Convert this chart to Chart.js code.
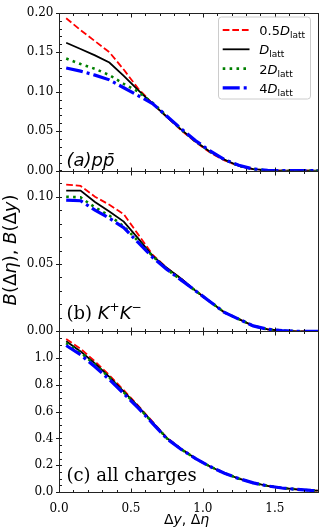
<!DOCTYPE html>
<html>
<head>
<meta charset="utf-8">
<script src="https://cdn.jsdelivr.net/npm/chart.js@4.4.1/dist/chart.umd.min.js"></script>
<style>
  body { margin: 0; background: #fff; }
  #wrap { position: relative; width: 332px; height: 532px; }
  canvas { position: absolute; left: 0; top: 0; }
</style>
</head>
<body>
<div id="wrap">
  <canvas id="panelA" width="332" height="532"></canvas>
  <canvas id="panelB" width="332" height="532"></canvas>
  <canvas id="panelC" width="332" height="532"></canvas>
</div>
<script>
// bin centres in Δy / Δη (last one runs past the axis end)
const dy = [0.05, 0.15, 0.25, 0.35, 0.45, 0.55, 0.65, 0.75, 0.85, 0.95, 1.05, 1.15, 1.25, 1.35, 1.45, 1.55, 1.65, 1.75, 1.85];

// (a) p pbar
const ppHalf = [0.193, 0.178, 0.164, 0.150, 0.128, 0.104, 0.085, 0.068, 0.051, 0.036, 0.023, 0.013, 0.006, 0.002, 0.0005, 0, 0, 0, 0];
const ppOne  = [0.162, 0.154, 0.146, 0.137, 0.120, 0.102, 0.085, 0.068, 0.052, 0.037, 0.024, 0.014, 0.006, 0.002, 0.0005, 0, 0, 0, 0];
const ppTwo  = [0.142, 0.135, 0.129, 0.121, 0.110, 0.100, 0.086, 0.069, 0.052, 0.037, 0.024, 0.014, 0.006, 0.002, 0.0005, 0, 0, 0, 0];
const ppFour = [0.130, 0.126, 0.121, 0.115, 0.105, 0.095, 0.085, 0.069, 0.053, 0.038, 0.025, 0.014, 0.007, 0.002, 0.0005, 0, 0, 0, 0];

// (b) K+ K-
const kkHalf = [0.109, 0.108, 0.100, 0.094, 0.087, 0.072, 0.057, 0.047, 0.039, 0.030, 0.022, 0.014, 0.009, 0.004, 0.0015, 0.0005, 0, 0, 0];
const kkOne  = [0.1045, 0.1045, 0.096, 0.089, 0.0815, 0.069, 0.056, 0.047, 0.039, 0.030, 0.022, 0.014, 0.009, 0.004, 0.0015, 0.0005, 0, 0, 0];
const kkTwo  = [0.100, 0.0995, 0.092, 0.086, 0.078, 0.067, 0.056, 0.046, 0.038, 0.030, 0.022, 0.014, 0.009, 0.004, 0.0015, 0.0005, 0, 0, 0];
const kkFour = [0.0975, 0.097, 0.090, 0.084, 0.077, 0.066, 0.055, 0.046, 0.038, 0.030, 0.022, 0.014, 0.009, 0.004, 0.0015, 0.0005, 0, 0, 0];

// (c) all charges
const allHalf = [1.142, 1.07, 0.975, 0.872, 0.76, 0.645, 0.525, 0.405, 0.322, 0.25, 0.19, 0.14, 0.10, 0.068, 0.045, 0.03, 0.02, 0.012, 0.008];
const allOne  = [1.125, 1.05, 0.96, 0.86, 0.75, 0.64, 0.52, 0.402, 0.32, 0.25, 0.19, 0.14, 0.10, 0.068, 0.045, 0.03, 0.02, 0.012, 0.008];
const allTwo  = [1.112, 1.04, 0.952, 0.855, 0.745, 0.635, 0.518, 0.40, 0.319, 0.249, 0.19, 0.14, 0.10, 0.068, 0.045, 0.03, 0.02, 0.012, 0.008];
const allFour = [1.094, 1.025, 0.935, 0.84, 0.735, 0.628, 0.513, 0.398, 0.318, 0.249, 0.19, 0.14, 0.10, 0.068, 0.045, 0.03, 0.02, 0.012, 0.008];

// legend: prefix + D_latt
const legendPrefix = ['0.5', '', '2', '4'];

const xTicks = [0, 0.5, 1.0, 1.5];
const yTicksA = [0, 0.05, 0.10, 0.15, 0.20];
const yTicksB = [0, 0.05, 0.10];
const yTicksC = [0, 0.2, 0.4, 0.6, 0.8, 1.0];

const styles = [
  { color: '#ff0000', width: 1.8, dash: [6.7, 2.9] },
  { color: '#000000', width: 1.8, dash: [] },
  { color: '#008000', width: 2.6, dash: [2.6, 4.3] },
  { color: '#0000ff', width: 3.2, dash: [17, 4, 3, 4] }
];

const SERIF = '"DejaVu Serif"';
const SANS = '"DejaVu Sans"';

function rich(ctx, parts, x, y) {
  for (const [t, font, dyy] of parts) {
    ctx.font = font;
    ctx.fillText(t, x, y + (dyy || 0));
    x += ctx.measureText(t).width;
  }
  return x;
}
function richWidth(ctx, parts) {
  let w = 0;
  for (const [t, font] of parts) { ctx.font = font; w += ctx.measureText(t).width; }
  return w;
}

// frame, inward ticks, panel label, legend, axis titles
const decor = {
  id: 'decor',
  afterDraw(chart, args, o) {
    const { ctx, chartArea: a, scales: { x, y } } = chart;
    const L = Math.round(a.left) + 0.5, R = Math.round(a.right) + 0.5;
    const T = Math.round(a.top) + 0.5, B = Math.round(a.bottom) + 0.5;
    ctx.save();
    ctx.strokeStyle = '#000';
    ctx.lineWidth = 0.9;
    ctx.beginPath();
    // y minor ticks (inside)
    const nMinor = Math.round(y.max / o.yMinor);
    for (let k = 0; k <= nMinor; k++) {
      const py = Math.round(y.getPixelForValue(k * o.yMinor)) + 0.5;
      ctx.moveTo(L, py); ctx.lineTo(L + 2.5, py);
    }
    // y major ticks (outside)
    for (const v of o.yMajor) {
      const py = Math.round(y.getPixelForValue(v)) + 0.5;
      ctx.moveTo(L - 3.5, py); ctx.lineTo(L, py);
    }
    // x ticks, inward on bottom and top
    for (let k = 0; k <= 18; k++) {
      const px = Math.round(x.getPixelForValue(k * 0.1)) + 0.5;
      const len = k % 5 === 0 ? 4 : 2.5;
      ctx.moveTo(px, B); ctx.lineTo(px, B - len);
      ctx.moveTo(px, T); ctx.lineTo(px, T + len);
    }
    ctx.stroke();
    ctx.strokeStyle = '#222';
    ctx.lineWidth = 1;
    ctx.strokeRect(L, T, R - L, B - T);

    ctx.fillStyle = '#000';
    ctx.textBaseline = 'alphabetic';
    ctx.textAlign = 'left';
    rich(ctx, o.label, a.left + 7.5, o.labelY);

    if (o.legend) {
      const bx = 218, by = 16.5, bw = 92, bh = 82;
      ctx.beginPath();
      ctx.roundRect(bx + 0.5, by + 0.5, bw, bh, 3);
      ctx.fillStyle = 'rgba(255,255,255,0.8)';
      ctx.fill();
      ctx.strokeStyle = '#cccccc';
      ctx.lineWidth = 1;
      ctx.stroke();
      chart.data.datasets.forEach((ds, i) => {
        const ry = 30 + i * 19.3;
        ctx.save();
        ctx.strokeStyle = ds.borderColor;
        ctx.lineWidth = ds.borderWidth;
        ctx.setLineDash(ds.borderDash);
        ctx.beginPath();
        ctx.moveTo(222.7, ry); ctx.lineTo(249.5, ry);
        ctx.stroke();
        ctx.restore();
        ctx.fillStyle = '#000';
        rich(ctx, [
          [legendPrefix[i], '13px ' + SANS],
          ['D', 'italic 13px ' + SANS],
          ['latt', '9px ' + SANS, 3]
        ], 259.3, ry + 5);
      });
    }

    if (o.yTitle) {
      const parts = [
        ['B', 'italic 18px ' + SANS], ['(\u0394', '18px ' + SANS], ['\u03b7', 'italic 18px ' + SANS],
        ['), ', '18px ' + SANS],
        ['B', 'italic 18px ' + SANS], ['(\u0394', '18px ' + SANS], ['y', 'italic 18px ' + SANS],
        [')', '18px ' + SANS]
      ];
      const w = richWidth(ctx, parts);
      ctx.save();
      ctx.translate(16, 250);
      ctx.rotate(-Math.PI / 2);
      rich(ctx, parts, -w / 2, 0);
      ctx.restore();
    }
    if (o.xTitle) {
      const parts = [
        ['\u0394', '14px ' + SANS], ['y', 'italic 14px ' + SANS], [', ', '14px ' + SANS],
        ['\u0394', '14px ' + SANS], ['\u03b7', 'italic 14px ' + SANS]
      ];
      const w = richWidth(ctx, parts);
      rich(ctx, parts, (a.left + a.right) / 2 - w / 2 - 2, 524);
    }
    ctx.restore();
  }
};

function makePanel(id, series, yMax, yTicks, digits, pad, extra) {
  const showX = !!extra.showX;
  return new Chart(document.getElementById(id), {
    type: 'line',
    data: {
      labels: dy,
      datasets: series.map((s, i) => ({
        label: legendPrefix[i] + 'D_latt',
        data: s.map((v, j) => ({ x: dy[j], y: v })),
        borderColor: styles[i].color,
        borderWidth: styles[i].width,
        borderDash: styles[i].dash,
        pointRadius: 0,
        tension: 0,
        fill: false,
        clip: 0,
        order: 3 - i
      }))
    },
    options: {
      responsive: false,
      animation: false,
      devicePixelRatio: 1,
      layout: { padding: pad },
      plugins: {
        legend: { display: false },
        tooltip: { enabled: false },
        decor: extra.decor
      },
      scales: {
        x: {
          type: 'linear', min: 0, max: 1.8,
          display: showX,
          grid: { display: false, drawTicks: false },
          border: { display: false },
          afterBuildTicks: s => { s.ticks = xTicks.map(v => ({ value: v })); },
          afterFit: s => { if (showX) s.height = 40; },
          ticks: {
            padding: 10,
            color: '#000',
            font: { family: 'DejaVu Serif', size: 12 },
            maxRotation: 0,
            callback: v => v.toFixed(1)
          }
        },
        y: {
          type: 'linear', min: 0, max: yMax,
          grid: { display: false, drawTicks: false },
          border: { display: false },
          afterBuildTicks: s => { s.ticks = yTicks.map(v => ({ value: v })); },
          afterFit: s => { s.width = 59; },
          ticks: {
            padding: 5.5,
            color: '#000',
            font: { family: 'DejaVu Serif', size: 12 },
            callback: v => v.toFixed(digits)
          }
        }
      }
    },
    plugins: [decor]
  });
}

makePanel('panelA', [ppHalf, ppOne, ppTwo, ppFour], 0.20, yTicksA, 2,
  { left: 0, right: 14, top: 10.7, bottom: 361.3 },
  { decor: { yMinor: 0.01, yMajor: yTicksA, label: [['(a)pp\u0304', 'italic 18px ' + SANS]], labelY: 165.5, legend: true } });

makePanel('panelB', [kkHalf, kkOne, kkTwo, kkFour], 0.1193, yTicksB, 2,
  { left: 0, right: 14, top: 170.7, bottom: 200.7 },
  { decor: { yMinor: 0.01, yMajor: yTicksB, yTitle: true,
    label: [['(b) ', '18px ' + SERIF], ['K', 'italic 18px ' + SANS], ['+', '12px ' + SANS, -8], ['K', 'italic 18px ' + SANS], ['\u2212', '12px ' + SANS, -8]],
    labelY: 319 } });

makePanel('panelC', [allHalf, allOne, allTwo, allFour], 1.2, yTicksC, 1,
  { left: 0, right: 14, top: 331.3, bottom: 0 },
  { showX: true, decor: { yMinor: 0.05, yMajor: yTicksC, xTitle: true, label: [['(c) all charges', '18px ' + SERIF]], labelY: 481 } });
</script>
</body>
</html>
